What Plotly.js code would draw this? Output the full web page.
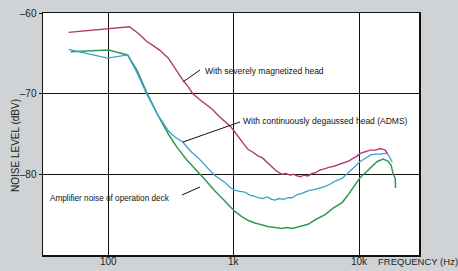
<!DOCTYPE html>
<html>
<head>
<meta charset="utf-8">
<script src="https://cdn.plot.ly/plotly-3.0.1.min.js"></script>
<style>html,body{margin:0;padding:0;background:#d0d3d6;}#chart{width:458px;height:271px;}</style>
</head>
<body>
<div id="chart"></div>
<script>
// Severely magnetized head
const magFreq = [48,100,147,175,201,230,256,300,350,391,430,470,530,600,680,760,850,930,1000,1080,1180,1294,1400,1556,1700,1871,2000,2150,2300,2421,2600,2800,3000,3192,3400,3600,3900,4207,4500,4800,5346,5800,6300,6792,7300,7800,8400,8954,9500,10190,11000,12250,13500,14720,15500,16140,16750];
const magDb = [-62.4,-62.0,-61.7,-62.6,-63.5,-64.1,-64.6,-65.6,-67.2,-68.3,-69.1,-70.0,-70.7,-71.3,-72.0,-72.8,-73.4,-74.0,-74.6,-75.3,-76.0,-76.9,-77.2,-77.7,-78.0,-78.6,-79.1,-79.5,-79.8,-80.0,-79.9,-80.1,-80.0,-80.2,-80.3,-80.1,-80.2,-79.9,-79.8,-79.5,-79.3,-79.1,-79.0,-78.8,-78.6,-78.4,-78.3,-78.0,-77.8,-77.4,-77.2,-77.0,-77.0,-76.8,-76.9,-77.0,-77.4];
// Continuously degaussed head (ADMS)
const degFreq = [48,98,142,170,201,242,300,340,391,450,515,580,643,700,780,847,930,1019,1117,1225,1350,1450,1556,1700,1850,2000,2128,2300,2500,2700,2911,3200,3450,3698,4000,4400,4900,5346,5900,6500,7311,8000,8954,10190,11200,12250,13500,14720,16000,16750,17700,18370];
const degDb = [-64.5,-65.6,-65.2,-67.5,-70.0,-72.4,-74.6,-75.4,-76.0,-77.1,-77.9,-78.8,-79.5,-80.1,-80.6,-81.0,-81.6,-82.0,-82.1,-82.2,-82.6,-82.7,-82.9,-83.0,-82.8,-83.1,-83.2,-83.0,-83.1,-82.9,-82.9,-82.5,-82.4,-82.2,-82.0,-81.9,-81.7,-81.5,-81.2,-80.8,-80.5,-79.9,-79.2,-78.4,-78.0,-77.6,-77.5,-77.5,-77.4,-77.4,-78.0,-78.5];
// Amplifier noise of operation deck
const ampFreq = [50,100,142,170,201,250,300,350,420,506,600,700,780,847,929,1019,1150,1294,1450,1675,1900,2128,2400,2650,2911,3300,3908,4500,5346,6200,7311,8100,8954,10190,11200,12250,13930,15560,17060,18000,18700,19400,19500];
const ampDb = [-64.8,-64.6,-65.2,-67.2,-69.8,-72.8,-75.0,-76.6,-78.2,-79.5,-80.8,-82.0,-82.7,-83.3,-84.0,-84.6,-85.2,-85.7,-86.0,-86.3,-86.5,-86.6,-86.7,-86.6,-86.7,-86.5,-86.2,-85.6,-85.0,-84.2,-83.5,-82.6,-81.7,-80.4,-79.8,-79.2,-78.4,-78.1,-78.4,-78.9,-80.0,-80.5,-81.7];

const xTickVals = [100,1000,10000];
const xTickText = ['100','1k','10k'];
const yTickVals = [-60,-70,-80];
const yTickText = ['–60','–70','–80'];

const FONT = 'Liberation Sans, Arial, Helvetica, sans-serif';

const traces = [
  {x: ampFreq, y: ampDb, mode:'lines', line:{color:'#2e9a52', width:1.5}, hoverinfo:'skip'},
  {x: degFreq, y: degDb, mode:'lines', line:{color:'#3a9fd2', width:1.3}, hoverinfo:'skip'},
  {x: magFreq, y: magDb, mode:'lines', line:{color:'#ad3a74', width:1.4}, hoverinfo:'skip'}
];

const xLabelAnns = xTickVals.map((v, i) => ({
  xref:'x', yref:'paper', x:Math.log10(v), y:-0.0250, xanchor:'center', yanchor:'middle', showarrow:false,
  text:xTickText[i], font:{family:FONT, size:10, color:'#222'}
}));

const layout = {
  width:458, height:271,
  margin:{l:43, r:39, t:13, b:16, pad:0},
  paper_bgcolor:'#d0d3d6',
  plot_bgcolor:'#ffffff',
  showlegend:false,
  font:{family:FONT, color:'#222', size:10},
  xaxis:{type:'log', range:[Math.log10(30), Math.log10(30000)], tickvals:xTickVals, ticktext:xTickText,
    showgrid:true, gridcolor:'#111', gridwidth:1, zeroline:false, showticklabels:false,
    showline:true, linecolor:'#111', linewidth:1.5, mirror:true, ticks:''},
  yaxis:{range:[-90,-60], tickvals:yTickVals, ticktext:yTickText,
    showgrid:true, gridcolor:'#111', gridwidth:1, zeroline:false,
    showline:true, linecolor:'#111', linewidth:1.5, mirror:true, ticks:'outside', ticklen:3, tickcolor:'#111',
    tickfont:{family:FONT, size:10, color:'#222'}},
  annotations:[
    {xref:'paper', yref:'paper', x:0.4255, y:0.760, xanchor:'left', yanchor:'middle', showarrow:false,
     text:'With severely magnetized head', font:{family:FONT, size:8.5, color:'#111'}},
    {xref:'paper', yref:'paper', x:0.5266, y:0.5537, xanchor:'left', yanchor:'middle', showarrow:false,
     text:'With continuously degaussed head (ADMS)', font:{family:FONT, size:8.5, color:'#111'}},
    {xref:'paper', yref:'paper', x:0.0133, y:0.2355, xanchor:'left', yanchor:'middle', showarrow:false,
     text:'Amplifier noise of operation deck', font:{family:FONT, size:8.2, color:'#111'}},
    {xref:'paper', yref:'paper', x:0.8856, y:-0.0250, xanchor:'left', yanchor:'middle', showarrow:false,
     text:'FREQUENCY (Hz)', font:{family:FONT, size:9.5, color:'#222'}},
    {xref:'paper', yref:'paper', x:-0.0745, y:0.4545, xanchor:'center', yanchor:'middle', showarrow:false, textangle:-90,
     text:'NOISE LEVEL (dBV)', font:{family:FONT, size:10, color:'#222'}}
  ].concat(xLabelAnns),
  shapes:[
    {type:'line', xref:'paper', yref:'paper', x0:0.4176, y0:0.7645, x1:0.3723, y1:0.7149, line:{color:'#111', width:1}},
    {type:'line', xref:'paper', yref:'paper', x0:0.5239, y0:0.5496, x1:0.3723, y1:0.4669, line:{color:'#111', width:1}},
    {type:'line', xref:'paper', yref:'paper', x0:0.3697, y0:0.2479, x1:0.4176, y1:0.2810, line:{color:'#111', width:1}}
  ]
};

Plotly.newPlot('chart', traces, layout, {displayModeBar:false, staticPlot:true});
</script>
</body>
</html>
